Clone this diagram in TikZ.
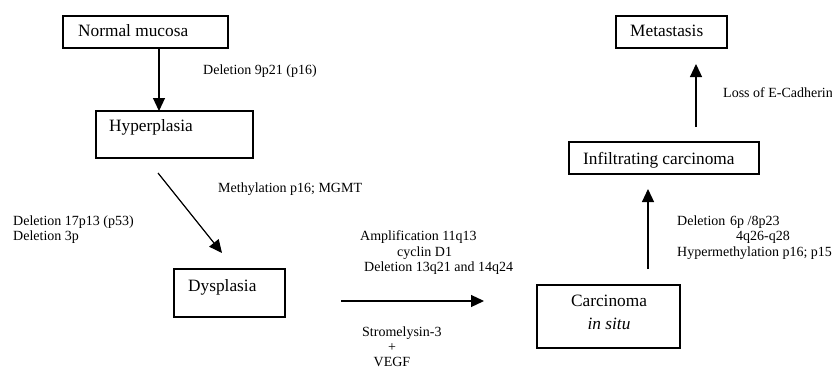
\documentclass[tikz,border=0pt]{standalone}
\usepackage{fontspec}
\setmainfont{Liberation Serif}
\usetikzlibrary{arrows.meta}
\begin{document}
\begin{tikzpicture}[x=1pt,y=-1pt,
  stagebox/.style={draw=black,line width=1.2pt,inner sep=0pt},
  boxtext/.style={font=\fontsize{17.3}{19}\selectfont,inner sep=0pt,text height=0.68em,text depth=0pt},
  lbl/.style={font=\fontsize{14}{16}\selectfont,inner sep=0pt,text height=0.68em,text depth=0pt},
  flow/.style={line width=1.2pt,-{Triangle[width=12pt,length=13pt]}}]
\useasboundingbox[fill=white] (0,0) rectangle (832,369);
% boxes
\node[stagebox,minimum width=165pt,minimum height=32pt] (nm) at (145.5,32) {};
\node[stagebox,minimum width=157pt,minimum height=47pt] (hyp) at (174.5,134.5) {};
\node[stagebox,minimum width=111pt,minimum height=48pt] (dys) at (229.5,293) {};
\node[stagebox,minimum width=143pt,minimum height=63pt] (cis) at (608.5,316.5) {};
\node[stagebox,minimum width=190pt,minimum height=32pt] (inf) at (664,158) {};
\node[stagebox,minimum width=111pt,minimum height=32pt] (met) at (671.5,32) {};
% box texts
\node[boxtext,anchor=west] (tnm) at (78,33) {Normal mucosa};
\node[boxtext,anchor=west] (thyp) at (109,128) {Hyperplasia};
\node[boxtext,anchor=west] (tdys) at (188,288) {Dysplasia};
\node[boxtext] (tcis1) at (609,303) {Carcinoma};
\node[boxtext] (tcis2) at (609,326) {\itshape in situ};
\node[boxtext,anchor=west] (tinf) at (583,161) {Infiltrating carcinoma};
\node[boxtext,anchor=west] (tmet) at (630,33) {Metastasis};
% connector ends
\coordinate (a1s) at (159,48);
\coordinate (a1e) at (159,111);
\coordinate (a2s) at (158,173);
\coordinate (a2e) at (222,253);
\coordinate (a3s) at (341,301);
\coordinate (a3e) at (484,301);
\coordinate (a4s) at (648,269);
\coordinate (a4e) at (648,189);
\coordinate (a5s) at (696,127);
\coordinate (a5e) at (696,64);
\draw[flow] (a1s) -- (a1e);
\draw[flow] (a2s) -- (a2e);
\draw[flow] (a3s) -- (a3e);
\draw[flow] (a4s) -- (a4e);
\draw[flow] (a5s) -- (a5e);
% labels
\node[lbl,anchor=west] (l1) at (203,71) {Deletion 9p21 (p16)};
\node[lbl,anchor=west] (l2) at (218,189) {Methylation p16; MGMT};
\node[lbl,anchor=west] (l3a) at (13,222) {Deletion 17p13 (p53)};
\node[lbl,anchor=west] (l3b) at (13,237) {Deletion 3p};
\node[lbl,anchor=west] (l4a) at (360,237) {Amplification 11q13};
\node[lbl,anchor=west] (l4b) at (397,253) {cyclin D1};
\node[lbl,anchor=west] (l4c) at (364,268) {Deletion 13q21 and 14q24};
\node[lbl,anchor=west] (l5a) at (362,333) {Stromelysin-3};
\node[lbl] (l5b) at (392,348) {+};
\node[lbl] (l5c) at (392,363) {VEGF};
\node[lbl,anchor=west] (l6a) at (677,222) {Deletion};
\node[lbl,anchor=west] (l6b) at (730,222) {6p /8p23};
\node[lbl,anchor=west] (l6c) at (736,237) {4q26-q28};
\node[lbl,anchor=west] (l6d) at (677,253) {Hypermethylation p16; p15};
\node[lbl,anchor=west] (l7) at (723,94) {Loss of E-Cadherin};
\end{tikzpicture}
\end{document}
